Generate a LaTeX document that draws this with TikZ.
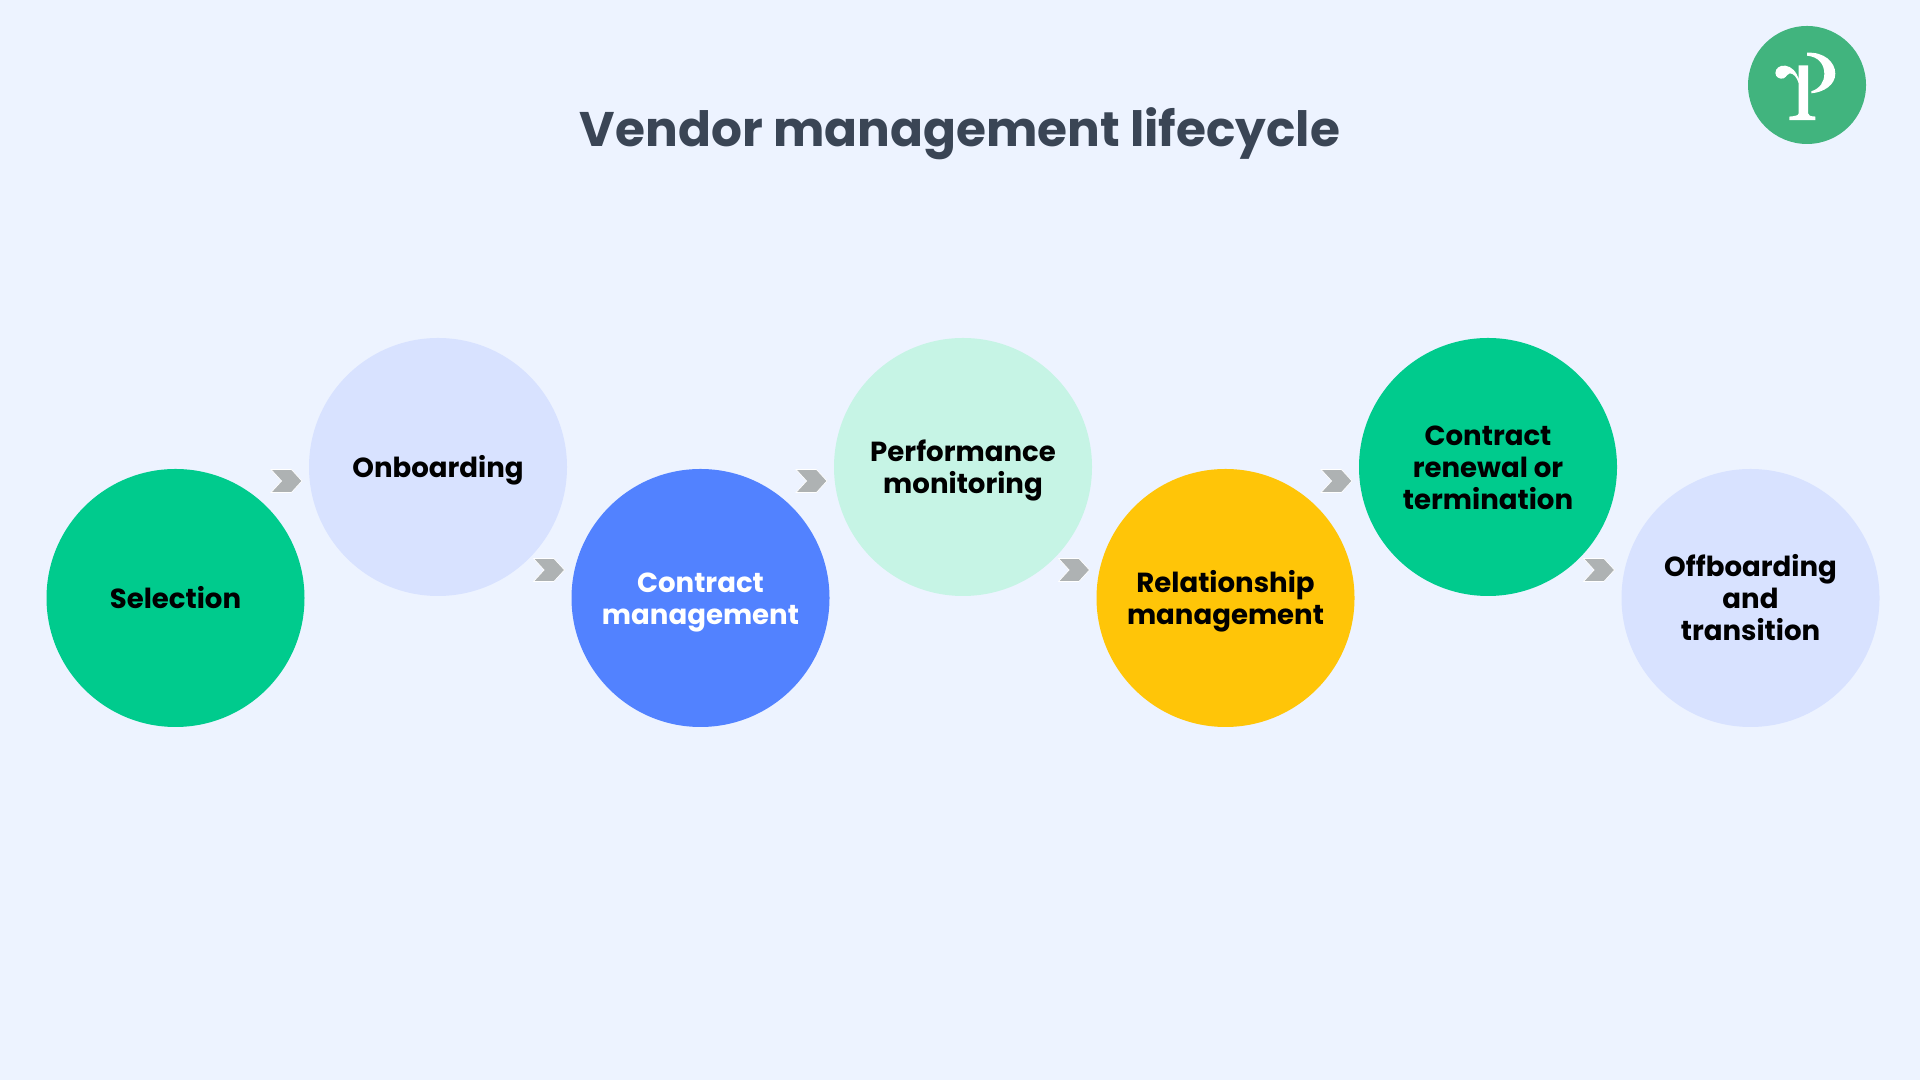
\documentclass[tikz,border=0pt]{standalone}
\usepackage{fontspec}
\setmainfont{Poppins}
\usepackage{xcolor}
\usetikzlibrary{positioning,calc,shapes.symbols}
\definecolor{pagebg}{HTML}{EDF3FF}
\definecolor{cgreen}{HTML}{00CB8D}
\definecolor{cpale}{HTML}{D8E2FF}
\definecolor{cblue}{HTML}{5282FF}
\definecolor{cmint}{HTML}{C6F4E5}
\definecolor{cyellow}{HTML}{FFC508}
\definecolor{ctitle}{HTML}{3A4555}
\definecolor{clogo}{HTML}{41B47E}
\definecolor{cchev}{HTML}{AEB2B3}
\newcommand{\topstrut}{\rule{0pt}{8.8pt}}
\newcommand{\botstrut}{\rule[-2.73pt]{0pt}{2.73pt}}
\begin{document}
\begin{tikzpicture}[
  stage/.style={circle,minimum size=2.58cm,inner sep=0pt,outer sep=0pt,align=center,font=\fontsize{7.85}{9.1}\selectfont\bfseries,text=black,execute at end node=\botstrut},
  chev/.style={signal,signal from=west,signal to=east,signal pointer angle=95,draw=white,line width=0.2pt,fill=cchev,minimum width=0.31cm,minimum height=0.23cm,inner sep=0pt,outer sep=0pt}]
\fill[pagebg] (0,0) rectangle (19.2,10.8);
\useasboundingbox (0,0) rectangle (19.2,10.8);
\node[font=\fontsize{13.82}{15}\selectfont\bfseries,text=ctitle] (title) at (9.6,9.46) {Vendor management lifecycle};
\node[stage,fill=cgreen] (s1) at (1.755,4.82) {\topstrut Selection};
\node[stage,fill=cpale,right=0.045cm of s1,yshift=1.31cm] (s2) {\topstrut Onboarding};
\node[stage,fill=cblue,text=white,right=0.045cm of s2,yshift=-1.31cm] (s3) {\topstrut Contract\\management};
\node[stage,fill=cmint,right=0.045cm of s3,yshift=1.31cm] (s4) {\topstrut Performance\\monitoring};
\node[stage,fill=cyellow,right=0.045cm of s4,yshift=-1.31cm] (s5) {\topstrut Relationship\\management};
\node[stage,fill=cgreen,right=0.045cm of s5,yshift=1.31cm] (s6) {\topstrut Contract\\renewal or\\termination};
\node[stage,fill=cpale,right=0.045cm of s6,yshift=-1.31cm] (s7) {\topstrut Offboarding\\and\\transition};
\foreach \a in {1,3,5}{\node[chev] (up\a) at ($(s\a)+(1.11,1.17)$) {};}
\foreach \a in {2,4,6}{\node[chev] (down\a) at ($(s\a)+(1.11,-1.03)$) {};}
% logo
\node[circle,fill=clogo,minimum size=1.18cm,inner sep=0pt] (logo) at (18.07,9.95) {};
\begin{scope}[shift={(logo.center)},x=0.00333cm,y=-0.00333cm]
\fill[white] (-25,-59) -- (3,-59) -- (3,85) .. controls (3,92) and (10,94) .. (25,95) -- (25,106) -- (-53,106) -- (-53,95) .. controls (-38,94) and (-25,92) .. (-25,85) -- (-25,-5) .. controls (-30,-22) and (-40,-35) .. (-52,-35) .. controls (-58,-35) and (-60,-26) .. (-70,-20) .. controls (-82,-16) and (-95,-24) .. (-95,-36) .. controls (-95,-50) and (-82,-60) .. (-65,-58) .. controls (-48,-56) and (-30,-40) .. (-25,-15) -- cycle;
\fill[white] (0,-97) .. controls (50,-100) and (85,-70) .. (85,-34) .. controls (85,0) and (50,22) .. (13,25) -- (13,19) .. controls (40,10) and (52,-10) .. (52,-34) .. controls (52,-62) and (35,-85) .. (0,-88) -- cycle;
\end{scope}
\end{tikzpicture}
\end{document}
